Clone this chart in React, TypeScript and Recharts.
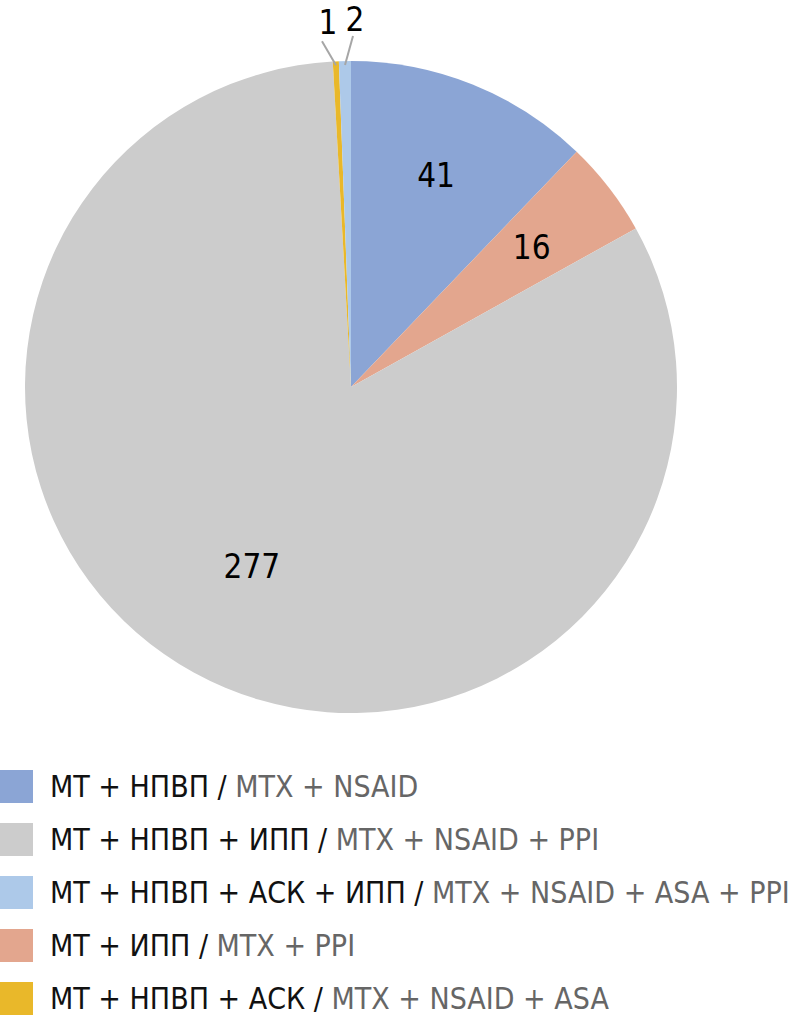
import { PieChart, Pie, Cell, Legend } from 'recharts'

// slices in the order they are drawn clockwise from 12 o'clock
const sliceKeys = ['nsaid', 'ppi', 'nsaidPpi', 'nsaidAsa', 'nsaidAsaPpi']
const sliceValues = [41, 16, 277, 1, 2]

// legend order as printed under the chart
const legendKeys = ['nsaid', 'nsaidPpi', 'nsaidAsaPpi', 'ppi', 'nsaidAsa']
const legendRu = [
  'МТ + НПВП',
  'МТ + НПВП + ИПП',
  'МТ + НПВП + АСК + ИПП',
  'МТ + ИПП',
  'МТ + НПВП + АСК',
]
const legendEn = [
  'MTX + NSAID',
  'MTX + NSAID + PPI',
  'MTX + NSAID + ASA + PPI',
  'MTX + PPI',
  'MTX + NSAID + ASA',
]

const colors: Record<string, string> = {
  nsaid: '#8ba5d5',
  nsaidPpi: '#cccccc',
  nsaidAsaPpi: '#adc9e9',
  ppi: '#e3a68e',
  nsaidAsa: '#e9b82a',
}

const FONT = '"DejaVu Sans Condensed", sans-serif'
const RAD = Math.PI / 180

const data = sliceKeys.map((key, i) => ({ key, value: sliceValues[i] }))

function renderLabel(props: any) {
  const { cx, cy, midAngle, outerRadius, value, index } = props
  const cos = Math.cos(-midAngle * RAD)
  const sin = Math.sin(-midAngle * RAD)
  if (value <= 2) {
    // tiny slices: label outside with a short leader line
    const left = index === 3
    const x0 = cx + (outerRadius - 4) * cos
    const y0 = cy + (outerRadius - 4) * sin
    const x1 = x0 + (left ? -14 : 8)
    const y1 = y0 - (left ? 24 : 29)
    return (
      <g>
        <line x1={x0} y1={y0} x2={x1} y2={y1} stroke="#a6a6a6" strokeWidth={2} />
        <text
          x={x1 + (left ? 6 : 2)}
          y={y1 - (left ? 7 : 5)}
          textAnchor="middle"
          fill="#000"
          fontSize={33}
          fontFamily={FONT}
        >
          {value}
        </text>
      </g>
    )
  }
  const r = outerRadius * (value > 100 ? 0.63 : 0.7)
  return (
    <text
      x={cx + r * cos}
      y={cy + r * sin}
      textAnchor="middle"
      dominantBaseline="central"
      fill="#000"
      fontSize={33}
      fontFamily={FONT}
    >
      {value}
    </text>
  )
}

function LegendBox() {
  return (
    <div style={{ fontFamily: FONT, fontSize: 30 }}>
      {legendKeys.map((key, i) => (
        <div
          key={key}
          style={{ display: 'flex', alignItems: 'center', height: 53 }}
        >
          <span
            style={{
              display: 'inline-block',
              width: 33,
              height: 33,
              background: colors[key],
              marginRight: 17,
              flex: 'none',
            }}
          />
          <span style={{ color: '#111', whiteSpace: 'nowrap' }}>
            {legendRu[i]} /{' '}
            <span style={{ color: '#666' }}>{legendEn[i]}</span>
          </span>
        </div>
      ))}
    </div>
  )
}

export default function App() {
  return (
    <div style={{ position: 'absolute', left: 0, top: 0, background: '#fff' }}>
      <PieChart width={794} height={1024}>
        <Pie
          data={data}
          dataKey="value"
          nameKey="key"
          cx={346}
          cy={382}
          outerRadius={326}
          startAngle={90}
          endAngle={-270}
          stroke="none"
          label={renderLabel}
          labelLine={false}
          isAnimationActive={false}
        >
          {data.map((d) => (
            <Cell key={d.key} fill={colors[d.key]} />
          ))}
        </Pie>
        <Legend
          content={() => <LegendBox />}
          wrapperStyle={{ left: 0, top: 760, width: 794 }}
        />
      </PieChart>
    </div>
  )
}
